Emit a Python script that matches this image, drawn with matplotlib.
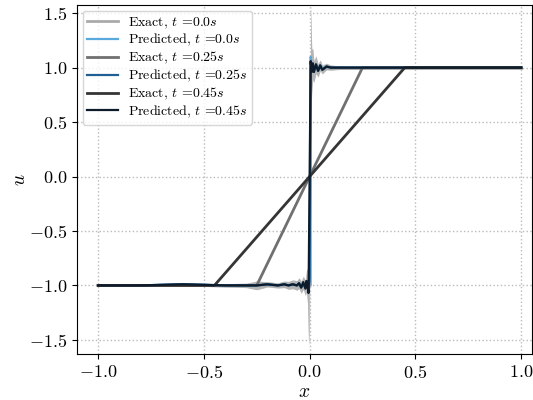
import matplotlib
matplotlib.use("Agg")
import matplotlib.pyplot as plt
import numpy as np

plt.rcParams["font.family"] = "cmr10"
plt.rcParams["mathtext.fontset"] = "cm"
plt.rcParams["axes.formatter.use_mathtext"] = True

# exact solutions
x_exact_0 = [-1.0, 0.0, 0.0, 1.0]
x_exact_25 = [-1.0, -0.25, 0.25, 1.0]
x_exact_45 = [-1.0, -0.45, 0.45, 1.0]
u_exact = [-1.0, -1.0, 1.0, 1.0]

# network predictions (same grid for every time)
x_pred = [-1.0, -0.8, -0.6, -0.4, -0.3, -0.25, -0.2, -0.15, -0.12, -0.1, -0.08,
          -0.06, -0.05, -0.04, -0.03, -0.02, -0.015, -0.01, -0.005, 0.0,
          0.005, 0.01, 0.015, 0.02, 0.03, 0.04, 0.05, 0.06, 0.08, 0.1,
          0.12, 0.15, 0.2, 0.3, 0.4, 0.6, 0.8, 1.0]
u_pred_0 = [-1.0, -1.0, -0.99, -1.0, -1.0, -1.0, -0.99, -1.0, -0.99, -1.0, -0.99,
            -1.0, -0.98, -1.01, -0.98, -1.02, -0.97, -1.0, -1.04, -0.9,
            1.1, 0.98, 1.03, 0.97, 1.02, 0.98, 1.02, 0.99, 1.01, 1.0,
            1.0, 1.0, 1.0, 1.0, 1.0, 1.0, 1.0, 1.0]
u_pred_25 = [-1.0, -1.0, -0.99, -1.0, -1.0, -1.0, -0.99, -1.0, -0.99, -1.0, -0.99,
             -1.0, -0.98, -1.02, -0.98, -1.02, -0.96, -1.0, -1.05, -0.95,
             1.05, 0.97, 1.03, 0.96, 1.03, 0.97, 1.02, 0.98, 1.01, 1.0,
             1.0, 1.0, 1.0, 1.0, 1.0, 1.0, 1.0, 1.0]
u_pred_45 = [-1.0, -1.0, -0.99, -1.0, -1.0, -1.0, -0.99, -1.0, -0.99, -1.0, -0.99,
             -1.0, -0.98, -1.02, -0.97, -1.03, -0.96, -1.01, -1.07, 0.0,
             1.06, 0.96, 1.04, 0.96, 1.03, 0.97, 1.02, 0.98, 1.01, 1.0,
             1.0, 1.0, 1.0, 1.0, 1.0, 1.0, 1.0, 1.0]
u_std = [0.005, 0.005, 0.006, 0.008, 0.01, 0.02, 0.012, 0.012, 0.015, 0.018, 0.02,
         0.022, 0.025, 0.028, 0.03, 0.035, 0.05, 0.08, 0.25, 0.25,
         0.25, 0.1, 0.07, 0.05, 0.04, 0.03, 0.025, 0.02, 0.015, 0.012,
         0.01, 0.008, 0.008, 0.006, 0.005, 0.005, 0.005, 0.005]

times = ["0.0", "0.25", "0.45"]
exact_colors = ["#aaaaaa", "#707070", "#353535"]
pred_colors = ["#5aa9dc", "#1f5f94", "#0d1b2a"]

fig = plt.figure(figsize=(5.33, 4.0), dpi=100)
ax = fig.add_axes([0.1445, 0.115, 0.853, 0.8725])

xp = np.array(x_pred)
sd = np.array(u_std)
for up in [u_pred_0, u_pred_25, u_pred_45]:
    up = np.array(up)
    ax.fill_between(xp, up - 2 * sd, up + 2 * sd, color="gray", alpha=0.25, lw=0)

exact_x = [x_exact_0, x_exact_25, x_exact_45]
preds = [u_pred_0, u_pred_25, u_pred_45]
for i in range(3):
    ax.plot(exact_x[i], u_exact, color=exact_colors[i], lw=2,
            label="Exact, $t$ =" + times[i] + "$s$")
    ax.plot(x_pred, preds[i], color=pred_colors[i], lw=1.6,
            label="Predicted, $t$ =" + times[i] + "$s$")

ax.set_xlim(-1.1, 1.05)
ax.set_ylim(-1.63, 1.575)
ax.set_xticks([-1.0, -0.5, 0.0, 0.5, 1.0])
ax.set_yticks([-1.5, -1.0, -0.5, 0.0, 0.5, 1.0, 1.5])
ax.tick_params(labelsize=13)
ax.set_xlabel("$x$", fontsize=14, labelpad=2)
ax.set_ylabel("$u$", fontsize=14, labelpad=0)
ax.grid(True, linestyle=":", color="#bbbbbb", lw=1)
ax.legend(loc="upper left", fontsize=10, handlelength=2.2, borderaxespad=0.4,
          labelspacing=0.12, borderpad=0.35, handletextpad=0.7, framealpha=0.8)

fig.savefig("out.png", dpi=100)
